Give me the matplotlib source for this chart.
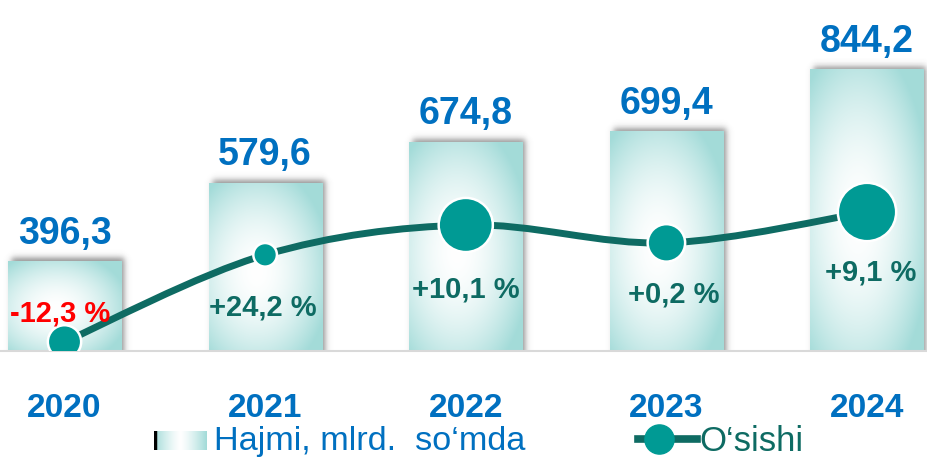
import numpy as np
import matplotlib.pyplot as plt
from matplotlib.path import Path
from matplotlib.patches import PathPatch
from matplotlib.lines import Line2D

plt.rcParams['font.family'] = ['Liberation Sans', 'DejaVu Sans']

# values
years = ['2020', '2021', '2022', '2023', '2024']
volume = [396.3, 579.6, 674.8, 699.4, 844.2]   # Hajmi, mlrd. so'mda
growth = [-12.3, 24.2, 10.1, 0.2, 9.1]         # O'sishi, %
# the growth curve sits at its own unlabelled level (0-100 scale)
growth_level = [2.6, 27.4, 35.9, 30.8, 39.6]

volume_labels = [f'{v:.1f}'.replace('.', ',') for v in volume]
growth_labels = [f'{g:+.1f} %'.replace('.', ',') for g in growth]

# styling
BLUE = '#0070C0'
TEAL_DARK = '#0E6B63'
TEAL = '#009A94'
RED = '#FF0000'
BAR_EDGE = np.array([0.64, 0.86, 0.85])
marker_sizes = [24, 17, 39, 27, 42]   # pt
pct_offsets = [(-3, 15), (-2, -44), (0, -52), (5, -43), (3, -49)]  # pt
bar_w = 0.564

W, H = 927, 457
AX_H = 351
fig = plt.figure(figsize=(W / 100, H / 100), dpi=100)
ax = fig.add_axes([0, (H - AX_H) / H, 1, AX_H / H])
xlim = (-0.3215, 4.299)
ylim = (188.5, 1006.7)
x = np.arange(len(years))

px_x = (xlim[1] - xlim[0]) / W
px_y = (ylim[1] - ylim[0]) / AX_H


def sig(z):
    return 0.5 * (1 + np.tanh(z))


# bar fill: soft white centre fading to light teal
gy, gx = np.mgrid[0:1:140j, 0:1:60j]
r = np.sqrt(((gx - 0.42) / 0.66) ** 2 + ((gy - 0.47) / 0.64) ** 2)
t = np.clip(r, 0, 1) ** 1.8
bar_rgb = 1 - t[..., None] * (1 - BAR_EDGE)

for xi, v in zip(x, volume):
    x0, x1 = xi - bar_w / 2, xi + bar_w / 2
    y0 = ylim[0]
    # drop shadow (up and to the right)
    pad = 16
    sx = np.linspace(x0 - pad * px_x, x1 + pad * px_x, 90)
    sy = np.linspace(y0, v + pad * px_y, 90)
    X, Y = np.meshgrid(sx, sy)
    dx, dy, blur = 3 * px_x, 4 * px_y, 3.5
    a = (sig((X - (x0 + dx)) / (blur * px_x)) * sig(((x1 + dx) - X) / (blur * px_x))
         * sig(((v + dy) - Y) / (blur * px_y)))
    shadow = np.zeros(X.shape + (4,))
    shadow[..., :3] = 0.3
    shadow[..., 3] = 0.6 * a
    ax.imshow(shadow, extent=(sx[0], sx[-1], sy[0], sy[-1]), origin='lower',
              aspect='auto', zorder=1, interpolation='bilinear')
    ax.imshow(bar_rgb, extent=(x0, x1, y0, v), origin='lower', aspect='auto',
              zorder=2, interpolation='bilinear')

for xi, v, lbl in zip(x, volume, volume_labels):
    ax.annotate(lbl, (xi, v), xytext=(0, 13), textcoords='offset points',
                ha='center', va='baseline', fontsize=27, fontweight='bold',
                color=BLUE, zorder=5)

ax.set_xlim(xlim)
ax.set_ylim(ylim)
for s in ['left', 'right', 'top']:
    ax.spines[s].set_visible(False)
ax.spines['bottom'].set_color('#D9D9D9')
ax.spines['bottom'].set_linewidth(1.5)
ax.set_yticks([])
ax.set_xticks(x, years)
ax.tick_params(axis='x', length=0, pad=30, labelsize=24, labelcolor=BLUE)
for lab in ax.get_xticklabels():
    lab.set_fontweight('bold')

# growth curve on its own axis
ax2 = ax.twinx()
ax2.set_ylim(0, 100)
ax2.axis('off')

pts = np.column_stack([x, growth_level]).astype(float)
ext = np.vstack([pts[0], pts, pts[-1]])
verts = [pts[0]]
codes = [Path.MOVETO]
for i in range(len(pts) - 1):
    p0, p1, p2, p3 = ext[i], ext[i + 1], ext[i + 2], ext[i + 3]
    verts += [p1 + (p2 - p0) / 6, p2 - (p3 - p1) / 6, p2]
    codes += [Path.CURVE4] * 3
ax2.add_patch(PathPatch(Path(verts, codes), fill=False, ec=TEAL_DARK, lw=5,
                        capstyle='round', zorder=3))
ax2.scatter(x, growth_level, s=np.array(marker_sizes) ** 2, c=TEAL,
            edgecolors='white', linewidths=1.8, zorder=4)

for xi, lvl, g, lbl, off in zip(x, growth_level, growth, growth_labels, pct_offsets):
    ax2.annotate(lbl, (xi, lvl), xytext=off, textcoords='offset points',
                 ha='center', va='baseline', fontsize=21, fontweight='bold',
                 color=RED if g < 0 else TEAL_DARK, zorder=5)
ax2.set_xlim(xlim)

# legend, drawn by hand
lax = fig.add_axes([154 / W, (H - 450) / H, 52 / W, 19 / H])
u = np.linspace(0, 1, 60)
lt = np.clip(np.abs(u - 0.5) / 0.5, 0, 1) ** 1.3
lrgb = 1 - lt[None, :, None] * (1 - BAR_EDGE)
lax.imshow(np.repeat(lrgb, 4, axis=0), aspect='auto', extent=(0, 1, 0, 1))
lax.axvline(0.02, color='black', lw=2.5)
lax.set_xlim(0, 1)
lax.axis('off')

fig.text(214 / W, (H - 450) / H, 'Hajmi, mlrd.  so‘mda', fontsize=24.7,
         color=BLUE, va='baseline')
fig.add_artist(Line2D([638 / W, 697 / W], [(H - 439) / H] * 2,
                      transform=fig.transFigure, color=TEAL_DARK, lw=5.5))
fig.add_artist(Line2D([659 / W], [(H - 439) / H], transform=fig.transFigure,
                      marker='o', ms=21, mfc=TEAL, mec=TEAL, ls='none'))
fig.text(699 / W, (H - 451) / H, 'O‘sishi', fontsize=25, color=TEAL_DARK,
         va='baseline')

fig.savefig('out.png', dpi=100)
